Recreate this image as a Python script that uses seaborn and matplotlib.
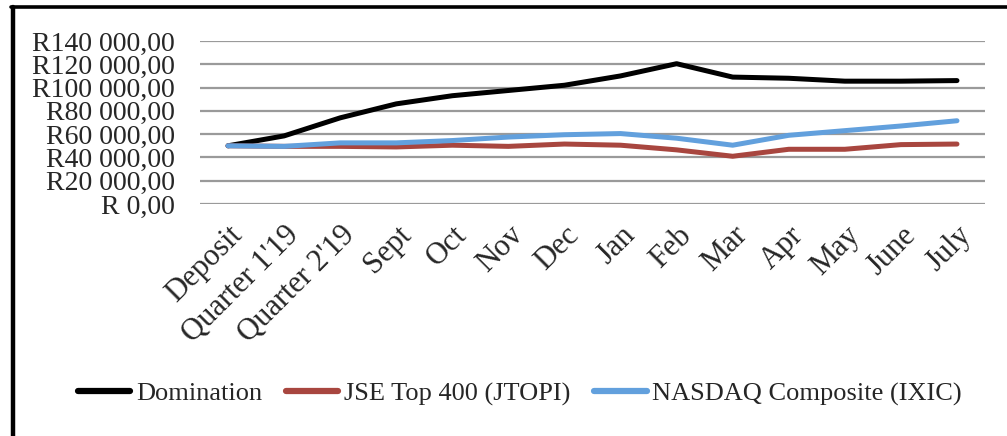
import numpy as np
import pandas as pd
import matplotlib
matplotlib.use("Agg")
import matplotlib.pyplot as plt
from matplotlib.lines import Line2D
from matplotlib.ticker import FuncFormatter
import seaborn as sns

# data
periods = ["Deposit", "Quarter 1'19", "Quarter 2'19", "Sept", "Oct", "Nov", "Dec",
           "Jan", "Feb", "Mar", "Apr", "May", "June", "July"]
domination = [50000, 58500, 74000, 86000, 93000, 97500, 102000,
              110000, 120500, 109000, 108000, 105500, 105500, 106000]
jse_top400 = [50000, 49500, 49500, 49000, 50500, 49500, 51500,
              50500, 46500, 41000, 47000, 47000, 51000, 51500]
nasdaq = [50000, 49500, 52500, 52500, 54500, 57500, 59500,
          60500, 56500, 50500, 59000, 63000, 67000, 71500]

series_names = ["Domination", "JSE Top 400 (JTOPI)", "NASDAQ Composite (IXIC)"]
colors = ["#000000", "#A8463F", "#62A0DD"]

sns.set_theme(style="white")
plt.rcParams['font.family'] = ['Liberation Serif', 'DejaVu Serif']

pos = np.arange(len(periods))
frames = []
for name, vals in zip(series_names, [domination, jse_top400, nasdaq]):
    frames.append(pd.DataFrame({"pos": pos, "value": vals, "series": name}))
df = pd.concat(frames, ignore_index=True)

fig = plt.figure(figsize=(10.07, 4.36), dpi=100)
ax = fig.add_axes([200 / 1007, 232 / 436, 785 / 1007, 163 / 436])

sns.lineplot(data=df, x="pos", y="value", hue="series", hue_order=series_names,
             palette=colors, sort=False, linewidth=3.6, ax=ax, legend=False,
             solid_capstyle="round")

ax.set_xlim(-0.5, len(periods) - 0.5)
ax.set_ylim(0, 140000)
ax.set_yticks(np.arange(0, 140001, 20000))
ax.set_xticks(pos)
ax.set_xticklabels(periods, rotation=45, ha="right", rotation_mode="anchor", fontsize=22)


def rand_fmt(v, _):
    if v == 0:
        return "R 0,00"
    s = f"{int(v):,}".replace(",", " ")
    return f"R{s},00"


ax.yaxis.set_major_formatter(FuncFormatter(rand_fmt))
ax.tick_params(axis="y", labelsize=20, length=0, pad=18)
ax.tick_params(axis="x", length=0, pad=12)
ax.yaxis.grid(True, color="#9a9a9a", linewidth=1.6)
ax.xaxis.grid(False)
for s in ax.spines.values():
    s.set_visible(False)
ax.set_xlabel("")
ax.set_ylabel("")

handles = [Line2D([0], [0], color=c, lw=4.5, solid_capstyle="round") for c in colors]
fig.legend(handles, series_names, loc="center", bbox_to_anchor=(0.516, 41 / 436 + 0.003),
           ncol=3, frameon=False, fontsize=19, handlelength=2.0, handletextpad=0.2,
           columnspacing=0.9)

# outer border (left and top)
fig.add_artist(Line2D([13 / 1007, 13 / 1007], [0, 1 - 7 / 436], color="black",
                      lw=3.2, transform=fig.transFigure))
fig.add_artist(Line2D([11 / 1007, 1], [1 - 7 / 436, 1 - 7 / 436], color="black",
                      lw=2.6, transform=fig.transFigure))

fig.savefig("out.png", dpi=100)
